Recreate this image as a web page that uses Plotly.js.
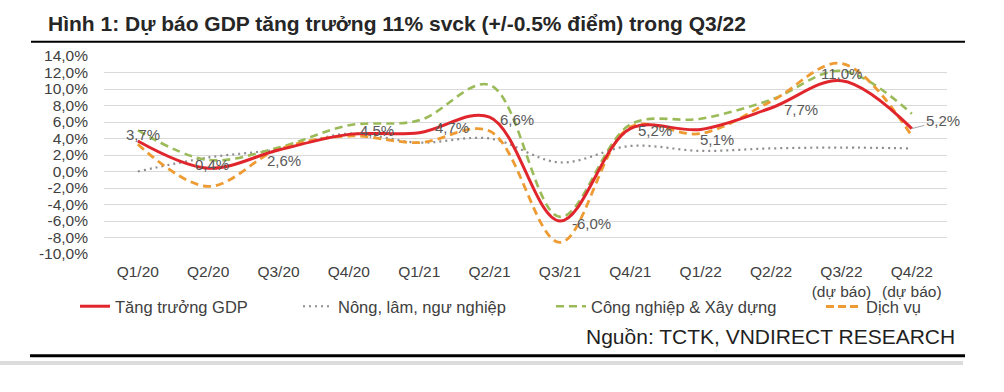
<!DOCTYPE html>
<html>
<head>
<meta charset="utf-8">
<script src="https://cdn.plot.ly/plotly-3.0.1.min.js"></script>
<style>html,body{margin:0;padding:0;background:#fff;}#chart{width:1004px;height:392px;}</style>
</head>
<body>
<div id="chart"></div>
<script>
// ---- data ----
const quarters = ['Q1/20','Q2/20','Q3/20','Q4/20','Q1/21','Q2/21','Q3/21','Q4/21','Q1/22','Q2/22','Q3/22<br>(dự báo)','Q4/22<br>(dự báo)'];
const gdp      = [3.7, 0.4, 2.6, 4.5, 4.7, 6.6, -6.0, 5.2, 5.1, 7.7, 11.0, 5.2];
const agri     = [0.0, 1.7, 2.7, 4.6, 3.5, 4.0, 1.1, 3.1, 2.5, 2.8, 2.9, 2.8];
const industry = [5.0, 1.4, 2.9, 5.6, 6.2, 10.5, -5.5, 5.7, 6.4, 8.7, 12.2, 7.0];
const services = [3.3, -1.8, 2.7, 4.3, 3.5, 4.9, -8.6, 5.4, 4.6, 8.5, 13.1, 4.3];
const seriesNames = ['Tăng trưởng GDP', 'Nông, lâm, ngư nghiệp', 'Công nghiệp & Xây dựng', 'Dịch vụ'];
const yTickVals = [-10, -8, -6, -4, -2, 0, 2, 4, 6, 8, 10, 12, 14];
const yTickText = ['-10,0%','-8,0%','-6,0%','-4,0%','-2,0%','0,0%','2,0%','4,0%','6,0%','8,0%','10,0%','12,0%','14,0%'];
const titleText = 'Hình 1: Dự báo GDP tăng trưởng 11% svck (+/-0.5% điểm) trong Q3/22';
const sourceText = 'Nguồn: TCTK, VNDIRECT RESEARCH';

// label offsets (pixels) for GDP data labels
const labelShift = [[5,6],[4,4],[5,-10],[28,4],[33,5],[27,-2],[32,-2],[25,-2],[16,-10],[30,-2],[0,7],[23,6]];

const FONT = 'Liberation Sans, Arial, sans-serif';
const fmt = v => v.toFixed(1).replace('.', ',') + '%';
const ORANGE = '#EE9B33';

const traces = [
  {x: quarters, y: agri, name: seriesNames[1], legend: 'legend2', mode: 'lines',
   line: {color: '#8E8E8E', width: 2.2, dash: '2px,4px', shape: 'spline', smoothing: 1}},
  {x: quarters, y: industry, name: seriesNames[2], legend: 'legend3', mode: 'lines',
   line: {color: '#9BBB59', width: 2.6, dash: '8px,5px', shape: 'spline', smoothing: 1}},
  {x: quarters, y: services, name: seriesNames[3], showlegend: false, mode: 'lines',
   line: {color: ORANGE, width: 2.8, dash: '8px,5px', shape: 'spline', smoothing: 1}},
  {x: quarters, y: gdp, name: seriesNames[0], legend: 'legend', mode: 'lines',
   line: {color: '#E0262C', width: 3, shape: 'spline', smoothing: 1}}
];

const legendY = 306.5;
const annotations = gdp.map((v, i) => {
  const a = {x: quarters[i], y: v, xref: 'x', yref: 'y', text: fmt(v), showarrow: false,
    xshift: labelShift[i][0], yshift: labelShift[i][1],
    font: {family: FONT, size: 15, color: '#595959'}};
  if (i === gdp.length - 1) {
    a.showarrow = true; a.arrowhead = 0; a.arrowwidth = 1; a.arrowcolor = '#A6A6A6';
    a.ax = 31; a.ay = -8; a.xshift = 0; a.yshift = 0; a.standoff = 0;
  }
  return a;
});
annotations.push({xref: 'paper', yref: 'paper', x: (957-104)/843, y: -(336.7-254)/198,
  xanchor: 'right', yanchor: 'middle', text: sourceText, showarrow: false,
  font: {family: FONT, size: 21, color: '#1F1F1F'}});
// legend entry for services
annotations.push({xref: 'paper', yref: 'paper', x: (864-104)/843, y: -(legendY-254)/198,
  xanchor: 'left', yanchor: 'middle', text: seriesNames[3], showarrow: false,
  font: {family: FONT, size: 16.5, color: '#404040'}});

const legendBase = {orientation: 'v', xref: 'container', yref: 'container', y: 1 - legendY/392,
  yanchor: 'middle', xanchor: 'left', valign: 'middle', bgcolor: 'rgba(0,0,0,0)',
  font: {family: FONT, size: 16.5, color: '#404040'}, itemclick: false, itemdoubleclick: false};

const layout = {
  width: 1004, height: 392,
  margin: {l: 104, r: 57, t: 56, b: 138, autoexpand: false},
  paper_bgcolor: '#ffffff', plot_bgcolor: '#ffffff',
  title: {text: '<b>' + titleText + '</b>', xref: 'container', yref: 'container',
    x: 48/1004, xanchor: 'left', y: 1 - 23.5/392, yanchor: 'middle',
    font: {family: FONT, size: 21, color: '#262626'}},
  xaxis: {type: 'category', range: [-0.48, 11.5], showgrid: false, zeroline: false, showline: false,
    ticks: '', automargin: false, ticklabelstandoff: 6,
    tickfont: {family: FONT, size: 15.5, color: '#404040'}},
  yaxis: {range: [-10, 14], tickvals: yTickVals, ticktext: yTickText, showgrid: true,
    gridcolor: '#D9D9D9', gridwidth: 1, zeroline: false, showline: false, ticks: '',
    automargin: false, ticklabelstandoff: 15,
    tickfont: {family: FONT, size: 15.5, color: '#404040'}},
  showlegend: true,
  legend: Object.assign({}, legendBase, {x: 75/1004}),
  legend2: Object.assign({}, legendBase, {x: 298/1004}),
  legend3: Object.assign({}, legendBase, {x: 551/1004}),
  annotations: annotations,
  shapes: [
    {type: 'line', xref: 'paper', yref: 'paper', x0: (31-104)/843, x1: (965-104)/843,
     y0: 1 + (56-41.8)/198, y1: 1 + (56-41.8)/198, line: {color: '#000000', width: 2}},
    {type: 'line', xref: 'paper', yref: 'paper', x0: (30-104)/843, x1: (965-104)/843,
     y0: -(355.8-254)/198, y1: -(355.8-254)/198, line: {color: '#000000', width: 3}},
    {type: 'line', xref: 'paper', yref: 'paper', x0: -104/843, x1: (963-104)/843,
     y0: -(363-254)/198, y1: -(363-254)/198, line: {color: '#DCDCDC', width: 4}},
    {type: 'line', xref: 'paper', yref: 'paper', x0: (826-104)/843, x1: (859-104)/843,
     y0: -(legendY-254)/198, y1: -(legendY-254)/198, line: {color: ORANGE, width: 2.8, dash: '8px,4px'}}
  ],
  hovermode: false
};

Plotly.newPlot('chart', traces, layout, {staticPlot: true, displayModeBar: false});
</script>
</body>
</html>
